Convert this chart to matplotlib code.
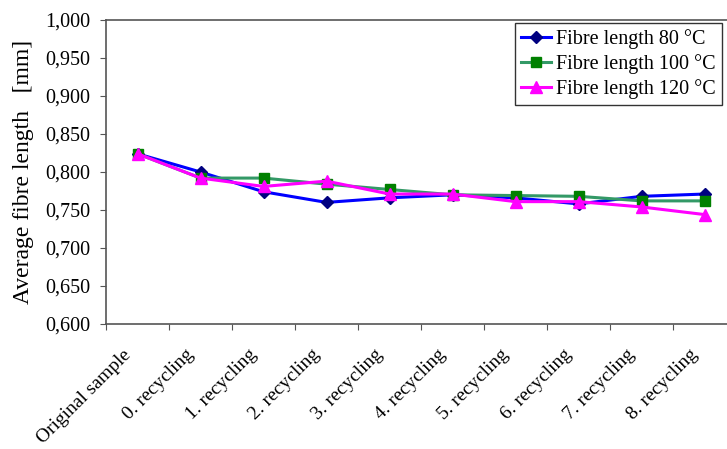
import matplotlib
matplotlib.use("Agg")
import matplotlib.pyplot as plt
from matplotlib.ticker import FuncFormatter

# categories and values
categories = ["Original sample", "0. recycling", "1. recycling", "2. recycling",
              "3. recycling", "4. recycling", "5. recycling", "6. recycling",
              "7. recycling", "8. recycling"]
len_80 = [0.824, 0.800, 0.774, 0.760, 0.766, 0.770, 0.766, 0.758, 0.768, 0.771]
len_100 = [0.824, 0.792, 0.792, 0.784, 0.777, 0.770, 0.769, 0.768, 0.762, 0.762]
len_120 = [0.824, 0.792, 0.781, 0.788, 0.771, 0.771, 0.761, 0.761, 0.754, 0.744]

plt.rcParams['font.family'] = ['Liberation Serif', 'DejaVu Serif']

fig = plt.figure(figsize=(7.27, 4.49), dpi=100)
ax = fig.add_axes([106 / 727, 1 - 324 / 449, 630 / 727, 304 / 449])

x = list(range(len(categories)))
ax.plot(x, len_80, color='#0000FF', lw=2.2, marker='D', ms=6,
        mfc='#000080', mec='#000080', label='Fibre length 80 °C', zorder=3)
ax.plot(x, len_100, color='#339966', lw=2.2, marker='s', ms=7,
        mfc='#008000', mec='#008000', label='Fibre length 100 °C', zorder=3)
ax.plot(x, len_120, color='#FF00FF', lw=2.2, marker='^', ms=8,
        mfc='#FF00FF', mec='#FF00FF', label='Fibre length 120 °C', zorder=4)

ax.set_xlim(-0.5, len(categories) - 0.5)
ax.set_ylim(0.6, 1.0)
ax.set_yticks([0.6 + 0.05 * i for i in range(9)])
ax.yaxis.set_major_formatter(FuncFormatter(lambda v, p: f"{v:.3f}".replace('.', ',')))
ax.set_xticks([i - 0.5 for i in range(len(categories) + 1)])
ax.set_xticklabels([])
# label anchors sit a little left of the category centre, as in the original
ax.set_xticks([i - 0.24 for i in x], minor=True)
ax.set_xticklabels(categories, minor=True, rotation=45, ha='right',
                   rotation_mode='anchor', fontsize=14)
ax.tick_params(axis='x', which='minor', length=0, pad=16)
ax.tick_params(axis='x', which='major', length=4.5, color='#555555', direction='out')
ax.tick_params(axis='y', length=4.5, pad=6.5, color='#555555', labelsize=14.5)

for s in ax.spines.values():
    s.set_color('#555555')
    s.set_linewidth(1.2)

ax.set_ylabel("Average fibre length   [mm]", fontsize=17, labelpad=8)

leg = ax.legend(loc='upper right', bbox_to_anchor=(0.978, 0.99), fontsize=14.5,
                frameon=True, fancybox=False, edgecolor='black',
                handlelength=1.5, borderpad=0.3, labelspacing=0.25,
                handletextpad=0.25, borderaxespad=0)
leg.get_frame().set_linewidth(1.0)

fig.savefig("out.png", dpi=100)
